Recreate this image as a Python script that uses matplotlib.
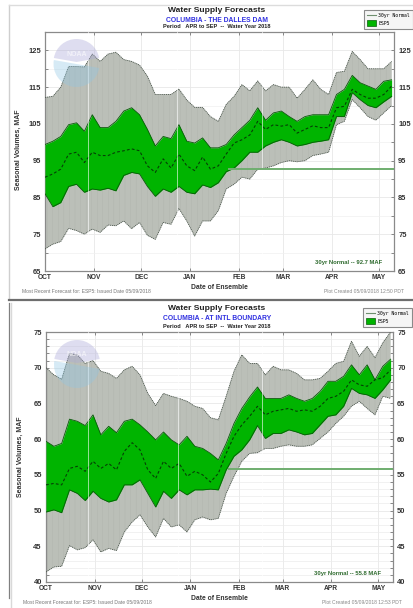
import matplotlib
matplotlib.use('Agg')
import matplotlib.pyplot as plt
from matplotlib.lines import Line2D
from matplotlib.patches import Patch, Wedge
from matplotlib.transforms import IdentityTransform

W, H = 414, 608

# days since Oct 1
days = [0, 5, 10, 15, 20, 25, 30, 35, 40, 45, 50, 55, 60, 65, 70, 75, 80, 85, 90, 95, 100, 105,
        110, 115, 120, 125, 130, 135, 140, 145, 150, 155, 160, 165, 170, 175, 180, 185, 190, 195,
        200, 205, 210, 215, 220]
month_days = [0, 31, 61, 92, 123, 151, 182, 212]
month_names = ['OCT', 'NOV', 'DEC', 'JAN', 'FEB', 'MAR', 'APR', 'MAY']
white_days = [27, 84, 138]

# The Dalles
dalles_max = [112.2, 112.5, 115, 120.6, 120.6, 120.5, 124, 122, 124, 124.5, 122.5, 122, 121, 118, 113,
              113, 113, 114.5, 111.5, 109.5, 109.5, 107, 105.7, 110.3, 112.5, 115.7, 114, 116.7, 114,
              115.7, 115, 115, 112, 114.4, 117, 114.4, 113, 119, 119.3, 124.7, 122.5, 120, 120, 120, 122]
dalles_hi = [99.4, 100.3, 101.6, 104.8, 105.3, 103, 107.5, 104, 104, 105.7, 108.5, 109.4, 107.5, 103.5,
             99, 101.6, 101, 104.8, 100.3, 99.8, 101.2, 98.5, 98.5, 99.4, 102, 104, 106, 109.4, 106,
             108, 108.5, 107, 105.7, 107, 107.5, 107.5, 107.5, 113, 114.4, 118.2, 116.2, 115.3, 114.4,
             116.6, 117]
dalles_med = [90.5, 91.4, 92.7, 96.8, 97.3, 94.5, 97.3, 96.4, 96.4, 97.3, 97.7, 98.2, 97.7, 93.6, 91.8,
              95.5, 93, 96.8, 93.6, 92.3, 96, 92.7, 93.6, 96.8, 99.8, 100.7, 102, 105.7, 103.5, 104.8,
              104.4, 104.8, 102.5, 103.5, 104.5, 104, 104, 109.4, 109.8, 114.4, 113, 112, 112, 113, 115.3]
dalles_lo = [86, 82.5, 83.6, 88, 88.6, 86.4, 87.3, 87, 87.5, 86.8, 91, 91.8, 91.4, 88, 85.3, 87.3, 86.4,
             88, 86.4, 86, 88.4, 87.7, 89, 92, 93, 95, 97.3, 97.3, 99, 100, 100.7, 100, 99, 99.4, 100,
             100.3, 100.7, 107, 107, 113.5, 111.6, 110, 109.4, 111, 112.5]
dalles_min = [71, 72.3, 73, 76.6, 76, 75, 76.4, 75.5, 77.5, 77.3, 78.6, 76.5, 78.2, 74.7, 73.6, 78.2,
              77.7, 82, 78.6, 74.5, 78.6, 78.6, 81.4, 87.3, 88.6, 90.5, 90, 92.7, 93, 93.6, 94.5, 95,
              94.7, 95, 96.4, 96.8, 97.3, 104.8, 105.7, 111.6, 109.4, 107, 106, 108, 110]

# International boundary
intl_max = [70, 69, 68.4, 72, 71.8, 70.6, 71, 69.5, 69.2, 68.5, 69.7, 70.2, 69, 66.4, 64.7, 66.4, 66,
            65.7, 65.3, 64.6, 64.3, 63, 62.7, 66, 69.5, 71.8, 70.6, 70.6, 69, 70.2, 69.7, 69.7, 69.2,
            68.3, 68.3, 68.5, 69.5, 70.6, 70.9, 73.7, 71.6, 73, 71.4, 73.5, 75]
intl_hi = [59.7, 59, 59.4, 62.8, 62.5, 61.9, 63.4, 60.6, 61.8, 60.9, 62.5, 62.8, 62, 61, 59.9, 61, 59.9,
           59.2, 60.4, 59, 58.7, 58, 57.1, 59.4, 62.2, 64.3, 65.9, 67.3, 65.7, 65.7, 65.7, 66.2, 65.7,
           65.3, 65.7, 66.7, 68.1, 68.1, 68.8, 70.4, 69, 70.4, 68.3, 70.2, 71.2]
intl_med = [53.6, 53.8, 53.6, 55.9, 56.2, 55.5, 56.9, 55.9, 56.6, 55.7, 58.3, 59.5, 58.5, 55.7, 54.5,
            56.9, 55.9, 56.6, 54.8, 55.5, 55, 54, 55.2, 58, 60.4, 62, 63.2, 64.6, 63.4, 63.9, 64.1,
            64.3, 63.9, 64.1, 63.9, 64.6, 65.7, 66, 66.7, 68.3, 67.6, 67.4, 68.3, 68.6, 69.7]
intl_lo = [49.8, 50.1, 49.7, 52.9, 52.4, 51.4, 52.7, 51.7, 51.2, 51.5, 53.6, 53.6, 54.3, 52.4, 50.5,
           52.7, 51.7, 52.9, 52.2, 52.9, 52.9, 53, 52.9, 55.7, 57.6, 58.5, 59.9, 61.9, 60.1, 60.8, 60.8,
           61.3, 61, 60.6, 60.8, 62, 63.2, 63.4, 64.6, 67.1, 66.4, 66.2, 65.7, 66.9, 68.3]
intl_min = [41.4, 42.1, 42.2, 45.1, 44.5, 44.8, 45.9, 44.2, 44.7, 44.4, 47, 48.4, 49.4, 47.7, 46.3, 48.9,
            47.7, 48, 47, 48.7, 49.1, 48.7, 48.9, 52.4, 54.8, 56.9, 58, 58.1, 58.7, 58.7, 59, 59.2, 59,
            59, 59.2, 60.1, 61, 62.2, 63.2, 64.6, 65.3, 64.3, 63.4, 66, 65.7]

plt.rcParams['font.family'] = ['Liberation Sans', 'DejaVu Sans']
plt.rcParams['hatch.linewidth'] = 0.25

GRAY = '#bbbfb8'
GREEN = '#00b400'
NORMAL = '#6fae6f'


def fig_text(fig, x, y, s, **kw):
    kw.setdefault('ha', 'center')
    kw.setdefault('va', 'center')
    return fig.text(x / W, 1 - y / H, s, **kw)


def draw_logo(fig, ax, cx, cy):
    tr = IdentityTransform()
    ax.add_patch(Wedge((cx, H - cy), 23, 10, 170, fc='#aaa8d8', alpha=0.38, lw=0,
                       transform=tr, zorder=5, clip_on=False))
    ax.add_patch(Wedge((cx, H - cy - 2), 23, 170, 350, fc='#8fc7e6', alpha=0.36, lw=0,
                       transform=tr, zorder=5, clip_on=False))
    ax.text(cx, H - cy + 8, 'NOAA', color='white', alpha=0.6, fontsize=5, fontweight='bold',
            ha='center', va='center', transform=tr, zorder=6)


def draw_panel(fig, box, ylim, major, minor, vmax, hi, med, lo, vmin, normal, normal_txt, grid_minor):
    left, right, top, bottom = box
    ax = fig.add_axes([left / W, 1 - bottom / H, (right - left) / W, (bottom - top) / H])
    ax.set_xlim(0, 221.5)
    ax.set_ylim(*ylim)

    ax.fill_between(days, vmin, vmax, facecolor=GRAY, edgecolor='#adb1aa',
                    hatch='|||', lw=0, zorder=2)
    ax.plot(days, vmax, color='#4a554b', lw=0.6, ls=(0, (1.5, 0.8)), zorder=3)
    ax.plot(days, vmin, color='#4a554b', lw=0.6, ls=(0, (1.5, 0.8)), zorder=3)
    ax.fill_between(days, lo, hi, color=GREEN, lw=0, zorder=3)
    ax.plot(days, hi, color='#0a5a0a', lw=0.6, zorder=4)
    ax.plot(days, lo, color='#0a5a0a', lw=0.6, zorder=4)
    ax.plot(days, med, color='#063f06', lw=0.8, ls=(0, (2.5, 2)), zorder=4)
    for d in white_days:
        ax.axvline(d, color='white', lw=0.7, alpha=0.6, zorder=4)
    ax.plot([116, 221.5], [normal, normal], color=NORMAL, lw=1.4, zorder=5, solid_capstyle='butt')

    ax.set_xticks(month_days)
    ax.set_xticklabels(month_names, fontsize=4.8, fontweight='bold', color='#333333')
    ax.set_yticks(major)
    ax.set_yticklabels([str(v) for v in major], fontsize=5.4, fontweight='bold', color='#333333')
    ax.set_yticks(minor, minor=True)
    ax.tick_params(axis='x', direction='in', length=2, width=0.6, color='#777777', top=True, pad=2.5)
    ax.tick_params(axis='y', which='both', direction='in', length=2, width=0.6, color='#777777',
                   right=True, labelright=True, pad=3)
    ax.grid(axis='x', color='#e8e8e8', lw=0.6, zorder=0)
    ax.grid(axis='y', which='major', color='#e8e8e8', lw=0.6, zorder=0)
    if grid_minor:
        ax.grid(axis='y', which='minor', color='#ececec', lw=0.5, zorder=0)
    else:
        ax.grid(axis='y', which='minor', color='#f0f0f0', lw=0.5, zorder=0)
    ax.set_axisbelow(True)
    for s in ax.spines.values():
        s.set_color('#8a8a8a')
        s.set_linewidth(0.9)
    ax.text(0.965, 0.036, normal_txt, transform=ax.transAxes, ha='right', va='center',
            fontsize=4.2, fontweight='bold', color='#2f6b2f', zorder=6)
    return ax


def legend_box(fig, ax, x1, y0):
    handles = [Line2D([], [], color='#6f8f6f', lw=0.8),
               Patch(facecolor=GREEN, edgecolor='#0a5a0a', lw=0.5)]
    leg = ax.legend(handles, ['30yr Normal', 'ESP5'], loc='upper right',
                    bbox_to_anchor=(x1 / W, 1 - y0 / H), bbox_transform=fig.transFigure,
                    prop={'family': 'DejaVu Sans Mono', 'size': 3.5}, frameon=True, fancybox=False,
                    facecolor='#f5f5f5', edgecolor='#8a8a8a', framealpha=1, handlelength=1.8,
                    handleheight=1.3, borderpad=0.6, labelspacing=0.45, handletextpad=0.6, borderaxespad=0)
    leg.get_frame().set_linewidth(0.8)
    leg.set_zorder(10)


fig = plt.figure(figsize=(W / 100, H / 100), dpi=100, facecolor='white')

# panel frames
fig.add_artist(Line2D([9 / W, 9 / W], [1 - 5 / H, 1 - 299 / H], color='#cfcfcf', lw=1))
fig.add_artist(Line2D([9 / W, 1], [1 - 5 / H, 1 - 5 / H], color='#dcdcdc', lw=1))
fig.add_artist(Line2D([9 / W, 1], [1 - 300 / H, 1 - 300 / H], color='#6e6e6e', lw=1.6))
fig.add_artist(Line2D([8.5 / W, 8.5 / W], [1 - 303 / H, 1 - 598 / H], color='#808080', lw=0.9))
fig.add_artist(Line2D([11 / W, 11 / W], [1 - 303 / H, 1 - 608 / H], color='#d9d9d9', lw=1))

ax1 = draw_panel(fig, (45, 394, 32, 271), (65, 130), list(range(65, 126, 10)), list(range(70, 130, 10)),
                 dalles_max, dalles_hi, dalles_med, dalles_lo, dalles_min, 92.7,
                 '30yr Normal -- 92.7 MAF', False)
ax2 = draw_panel(fig, (46, 393, 332, 582), (40, 75), list(range(40, 76, 5)), list(range(40, 76)),
                 intl_max, intl_hi, intl_med, intl_lo, intl_min, 55.8,
                 '30yr Normal -- 55.8 MAF', True)
draw_logo(fig, ax1, 76.5, 62)
draw_logo(fig, ax2, 77, 363)
legend_box(fig, ax1, 413, 10)
legend_box(fig, ax2, 412, 308)

TITLE = 6.1
SUB = 4.9
PERIOD = 4.1
fig_text(fig, 217, 10, 'Water Supply Forecasts', fontsize=TITLE, fontweight='bold', color='#222222')
fig_text(fig, 217, 20, 'COLUMBIA - THE DALLES DAM', fontsize=SUB, fontweight='bold', color='#3030e0')
fig_text(fig, 217, 27, 'Period   APR to SEP  --  Water Year 2018', fontsize=PERIOD, fontweight='bold', color='#222222')
fig_text(fig, 217, 308, 'Water Supply Forecasts', fontsize=TITLE, fontweight='bold', color='#222222')
fig_text(fig, 217, 318, 'COLUMBIA - AT INTL BOUNDARY', fontsize=SUB, fontweight='bold', color='#3030e0')
fig_text(fig, 217, 326, 'Period   APR to SEP  --  Water Year 2018', fontsize=PERIOD, fontweight='bold', color='#222222')

fig_text(fig, 18, 150, 'Seasonal Volumes, MAF', rotation=90, fontsize=5, fontweight='bold', color='#333333')
fig_text(fig, 20, 457, 'Seasonal Volumes, MAF', rotation=90, fontsize=5, fontweight='bold', color='#333333')
fig_text(fig, 219, 288, 'Date of Ensemble', fontsize=4.9, fontweight='bold', color='#333333')
fig_text(fig, 219, 598, 'Date of Ensemble', fontsize=4.9, fontweight='bold', color='#333333')

fig_text(fig, 86, 291, 'Most Recent Forecast for: ESP5: Issued Date 05/09/2018', fontsize=3.6, color='#777777')
fig_text(fig, 87, 602, 'Most Recent Forecast for: ESP5: Issued Date 05/09/2018', fontsize=3.6, color='#777777')
fig_text(fig, 364, 291, 'Plot Created 05/09/2018 12:50 PDT', fontsize=3.6, color='#888888')
fig_text(fig, 362, 602, 'Plot Created 05/09/2018 12:53 PDT', fontsize=3.6, color='#888888')

fig.savefig('out.png', dpi=100)
